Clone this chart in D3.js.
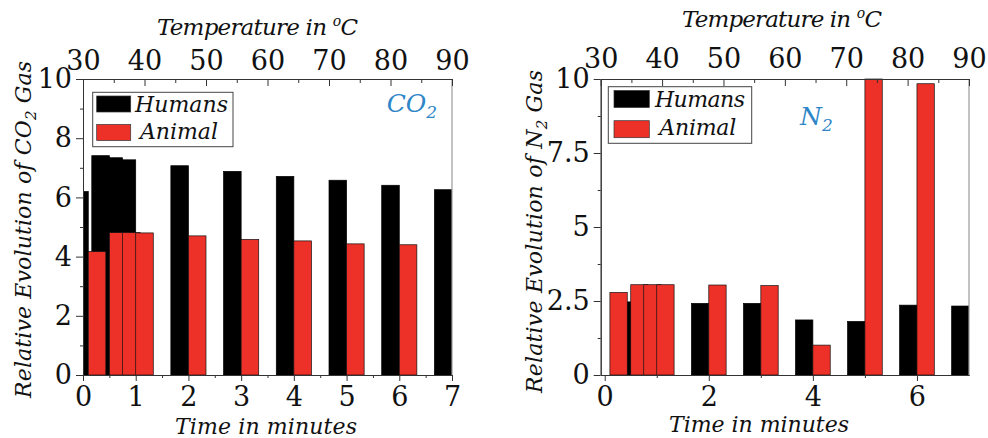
<!DOCTYPE html>
<html>
<head>
<meta charset="utf-8">
<script src="https://cdn.jsdelivr.net/npm/d3@7"></script>
<style>
body { margin: 0; background: #fff; }
svg text { font-family: "DejaVu Serif", "Liberation Serif", "Times New Roman", serif; }
</style>
</head>
<body>
<svg width="988" height="438"></svg>
<script>
// sample times (minutes) shared by both gases
var times = [0.1, 0.5, 0.75, 1, 2, 3, 4, 5, 6, 7];

var co2Humans = [6.2, 7.41, 7.34, 7.27, 7.07, 6.88, 6.71, 6.58, 6.41, 6.26];
var co2Animal = [4.17, 4.81, 4.81, 4.8, 4.7, 4.58, 4.53, 4.43, 4.4, null];

var n2Humans = [0, 2.47, 2.45, 2.45, 2.42, 2.42, 1.86, 1.81, 2.36, 2.33];
var n2Animal = [2.79, 3.05, 3.05, 3.05, 3.04, 3.02, 1.01, 10, 9.84, null];

var seriesNames = ['Humans', 'Animal'];
var seriesColors = ['#000000', '#ee3128'];

var tempTicks = [30, 40, 50, 60, 70, 80, 90];
var tempMinor = [35, 45, 55, 65, 75, 85];
var co2TimeTicks = [0, 1, 2, 3, 4, 5, 6, 7];
var co2TimeMinor = [0.5, 1.5, 2.5, 3.5, 4.5, 5.5, 6.5];
var co2YTicks = [0, 2, 4, 6, 8, 10];
var co2YMinor = [1, 3, 5, 7, 9];
var n2TimeTicks = [0, 2, 4, 6];
var n2TimeMinor = [1, 3, 5];
var n2YTicks = [0, 2.5, 5, 7.5, 10];
var n2YMinor = [1.25, 3.75, 6.25, 8.75];

var barWidth = 1 / 3;
var svg = d3.select('svg');
var top_ = 79, bottom_ = 375;
var serif = '"Liberation Serif", "Times New Roman", "DejaVu Serif", serif';

var panels = [
	{
		id: 'co2', gas: 'CO', left: 83, right: 452, timeDomain: [0, 7],
		humans: co2Humans, animal: co2Animal,
		timeTicks: co2TimeTicks, timeMinor: co2TimeMinor, yTicks: co2YTicks, yMinor: co2YMinor,
		topPad: 9, topTitle: { x: 257.5, y: 35, w: 201 },
		bottomTitle: { x: 266, y: 434, w: 182 },
		yTitle: { x: 31, y: 229.5, w: 337 },
		legend: { x: 92.7, y: 92.3, w: 140.3, h: 54.4, sx: 96.7, sw: 34, sy: [96, 124.5], sh: 16,
			tx: [135, 140], ty: [111.7, 139.3], tw: [93, 78] },
		gasLabel: { x: 386.7, y: 111.7 }
	},
	{
		id: 'n2', gas: 'N', left: 600.7, right: 969, timeDomain: [-0.077, 7],
		humans: n2Humans, animal: n2Animal,
		timeTicks: n2TimeTicks, timeMinor: n2TimeMinor, yTicks: n2YTicks, yMinor: n2YMinor,
		topPad: 11, topTitle: { x: 782, y: 27, w: 200 },
		bottomTitle: { x: 759, y: 432, w: 180 },
		yTitle: { x: 542, y: 231.5, w: 323 },
		legend: { x: 608.3, y: 86.7, w: 143.4, h: 56.6, sx: 614, sw: 35.3, sy: [90.5, 120.7], sh: 17,
			tx: [655, 659.3], ty: [107.3, 135], tw: [90, 77] },
		gasLabel: { x: 800, y: 125 }
	}
];

function styleAxis(g, size){
	g.attr('font-family', serif).attr('font-size', size);
	g.selectAll('text').attr('font-family', serif).attr('fill', '#111');
	g.selectAll('line').attr('stroke', '#333');
	g.select('.domain').attr('stroke', '#333');
}

function drawPanel(p){
	var g = svg.append('g').attr('font-family', serif);
	var x = d3.scaleLinear().domain(p.timeDomain).range([p.left, p.right]);
	var xt = d3.scaleLinear().domain([30, 90]).range([p.left, p.right]);
	var y = d3.scaleLinear().domain([0, 10]).range([bottom_, top_]);

	var clipId = 'clip-' + p.id;
	g.append('clipPath').attr('id', clipId).append('rect')
		.attr('x', p.left).attr('y', top_ - 1)
		.attr('width', p.right - p.left).attr('height', bottom_ - top_ + 1);
	var bars = g.append('g').attr('clip-path', 'url(#' + clipId + ')');

	// humans sit left of each time, animal right of it
	var hum = times.map((t, i) => ({ t: t, v: p.humans[i] })).filter(d => d.v !== null).reverse();
	var ani = times.map((t, i) => ({ t: t, v: p.animal[i] })).filter(d => d.v !== null);

	bars.selectAll('rect.hum').data(hum).join('rect').attr('class', 'hum')
		.attr('x', d => x(d.t - barWidth)).attr('width', d => x(d.t) - x(d.t - barWidth))
		.attr('y', d => y(d.v)).attr('height', d => y(0) - y(d.v))
		.attr('fill', seriesColors[0]).attr('stroke', '#000').attr('stroke-width', 0.7);
	bars.selectAll('rect.ani').data(ani).join('rect').attr('class', 'ani')
		.attr('x', d => x(d.t)).attr('width', d => x(d.t + barWidth) - x(d.t))
		.attr('y', d => y(d.v)).attr('height', d => y(0) - y(d.v))
		.attr('fill', seriesColors[1]).attr('stroke', '#111').attr('stroke-width', 0.7);

	// right border
	g.append('line').attr('x1', p.right).attr('x2', p.right).attr('y1', top_).attr('y2', bottom_)
		.attr('stroke', '#999').attr('stroke-width', 1.2);

	// bottom axis
	g.append('g').attr('transform', 'translate(0,' + bottom_ + ')')
		.call(d3.axisBottom(x).tickValues(p.timeMinor).tickFormat('').tickSizeInner(3).tickSizeOuter(0))
		.call(a => styleAxis(a, 27));
	g.append('g').attr('transform', 'translate(0,' + bottom_ + ')')
		.call(d3.axisBottom(x).tickValues(p.timeTicks).tickFormat(d3.format('')).tickSizeInner(6).tickSizeOuter(0).tickPadding(6))
		.call(a => styleAxis(a, 27));

	// left axis
	var yfmt = d => String(d);
	g.append('g').attr('transform', 'translate(' + p.left + ',0)')
		.call(d3.axisLeft(y).tickValues(p.yMinor).tickFormat('').tickSizeInner(3).tickSizeOuter(0))
		.call(a => styleAxis(a, 27));
	g.append('g').attr('transform', 'translate(' + p.left + ',0)')
		.call(d3.axisLeft(y).tickValues(p.yTicks).tickFormat(yfmt).tickSizeInner(7).tickSizeOuter(0).tickPadding(4))
		.call(a => styleAxis(a, 27));

	// top temperature axis, ticks pointing in
	g.append('g').attr('transform', 'translate(0,' + top_ + ')')
		.call(d3.axisTop(xt).tickValues(tempMinor).tickFormat('').tickSizeInner(-4).tickSizeOuter(0))
		.call(a => styleAxis(a, 27));
	g.append('g').attr('transform', 'translate(0,' + top_ + ')')
		.call(d3.axisTop(xt).tickValues(tempTicks).tickFormat(d3.format('')).tickSizeInner(-7).tickSizeOuter(0).tickPadding(p.topPad))
		.call(a => styleAxis(a, 27));

	// titles
	var tt = g.append('text').attr('x', p.topTitle.x).attr('y', p.topTitle.y)
		.attr('text-anchor', 'middle').attr('font-style', 'italic').attr('font-size', 23)
		.attr('textLength', p.topTitle.w).attr('lengthAdjust', 'spacing').attr('fill', '#111');
	tt.append('tspan').text('Temperature in ');
	tt.append('tspan').text('o').attr('font-size', 14).attr('dy', -9);
	tt.append('tspan').text('C').attr('dy', 9);

	g.append('text').attr('x', p.bottomTitle.x).attr('y', p.bottomTitle.y)
		.attr('text-anchor', 'middle').attr('font-style', 'italic').attr('font-size', 22)
		.attr('textLength', p.bottomTitle.w).attr('lengthAdjust', 'spacing').attr('fill', '#111')
		.text('Time in minutes');

	var yt = g.append('text')
		.attr('transform', 'translate(' + p.yTitle.x + ',' + p.yTitle.y + ') rotate(-90)')
		.attr('text-anchor', 'middle').attr('font-style', 'italic').attr('font-size', 22)
		.attr('textLength', p.yTitle.w).attr('lengthAdjust', 'spacing').attr('fill', '#111');
	yt.append('tspan').text('Relative Evolution of ' + p.gas);
	yt.append('tspan').text('2').attr('font-size', 15).attr('dy', 5);
	yt.append('tspan').text(' Gas').attr('dy', -5);

	// legend
	var L = p.legend;
	var lg = g.append('g');
	lg.append('rect').attr('x', L.x).attr('y', L.y).attr('width', L.w).attr('height', L.h)
		.attr('fill', '#fff').attr('stroke', '#444').attr('stroke-width', 1);
	seriesNames.forEach(function(name, i){
		lg.append('rect').attr('x', L.sx).attr('y', L.sy[i]).attr('width', L.sw).attr('height', L.sh)
			.attr('fill', seriesColors[i]).attr('stroke', '#333').attr('stroke-width', 0.7);
		lg.append('text').attr('x', L.tx[i]).attr('y', L.ty[i])
			.attr('font-style', 'italic').attr('font-size', 22)
			.attr('textLength', L.tw[i]).attr('lengthAdjust', 'spacing').attr('fill', '#111')
			.text(name);
	});

	// gas label
	var gl = g.append('text').attr('x', p.gasLabel.x).attr('y', p.gasLabel.y)
		.attr('font-style', 'italic').attr('font-size', 25).attr('fill', '#2e86c8');
	gl.append('tspan').text(p.gas);
	gl.append('tspan').text('2').attr('font-size', 17).attr('dy', 6);
}

panels.forEach(drawPanel);
</script>
</body>
</html>
